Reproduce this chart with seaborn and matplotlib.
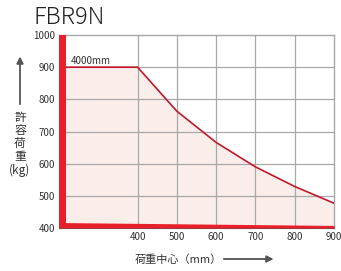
import matplotlib
matplotlib.use('Agg')
import matplotlib.pyplot as plt
import seaborn as sns
import pandas as pd

# load-center curve for FBR9N
load_center = [200, 400, 500, 600, 700, 800, 900]
capacity = [900, 900, 763, 666, 590, 529, 477]
x_ticks = [400, 500, 600, 700, 800, 900]
y_ticks = [400, 500, 600, 700, 800, 900, 1000]
title = 'FBR9N'
mast_label = '4000mm'

df = pd.DataFrame({'load_center': load_center, 'capacity': capacity})

sns.set_style('white')
plt.rcParams['font.family'] = ['Noto Sans CJK JP', 'DejaVu Sans']

fig = plt.figure(figsize=(3.41, 2.71), dpi=100)
ax = fig.add_axes([59 / 341, 1 - 228 / 271, 275 / 341, 193 / 271])

red = '#e8202a'
line_red = '#c2182c'
grid_c = '#a8a8a8'

ax.fill_between(df['load_center'], 400, df['capacity'], color='#fbeeea', zorder=1)
for v in x_ticks[:-1]:
    ax.axvline(v, color=grid_c, lw=0.9, zorder=2)
for v in y_ticks[1:-1]:
    ax.axhline(v, color=grid_c, lw=0.9, zorder=2)
sns.lineplot(data=df, x='load_center', y='capacity', color=line_red, lw=1.2, ax=ax, zorder=4)

# red frame bars on the left and bottom
ax.axvspan(200, 218, color=red, zorder=5, lw=0)
ax.fill_between([200, 900], 400, [417, 408], color=red, zorder=5, lw=0)

ax.set_xlim(200, 900)
ax.set_ylim(400, 1000)
ax.set_xticks(x_ticks)
ax.set_yticks(y_ticks)
ax.tick_params(labelsize=7, colors='#333333', length=0, pad=3)
ax.set_xlabel('')
ax.set_ylabel('')
for s in ['top', 'right']:
    ax.spines[s].set_color(grid_c)
    ax.spines[s].set_linewidth(1)
ax.spines['left'].set_visible(False)
ax.spines['bottom'].set_color('#555555')

ax.text(230, 905, mast_label, fontsize=7, color='#333333', va='bottom', zorder=6)

fig.text(34 / 341, 1 - 18 / 271, title, fontsize=17, color='#222222', va='center',
         fontweight='light')

# y label with arrow
fig.text(20 / 341, 1 - 144 / 271, '許\n容\n荷\n重\n(kg)', fontsize=8.5, color='#333333',
         ha='center', va='center', linespacing=1.0)
fig.add_artist(plt.annotate('', xy=(20 / 341, 1 - 54 / 271), xytext=(20 / 341, 1 - 107 / 271),
                            xycoords='figure fraction',
                            arrowprops=dict(arrowstyle='-|>', color='#555555', lw=1,
                                            mutation_scale=10)))

# x label with arrow
fig.text(178 / 341, 1 - 260 / 271, '荷重中心（mm）', fontsize=8, color='#333333',
         ha='center', va='center')
fig.add_artist(plt.annotate('', xy=(276 / 341, 1 - 259 / 271), xytext=(221 / 341, 1 - 259 / 271),
                            xycoords='figure fraction',
                            arrowprops=dict(arrowstyle='-|>', color='#555555', lw=1,
                                            mutation_scale=10)))

fig.savefig('out.png', dpi=100)
